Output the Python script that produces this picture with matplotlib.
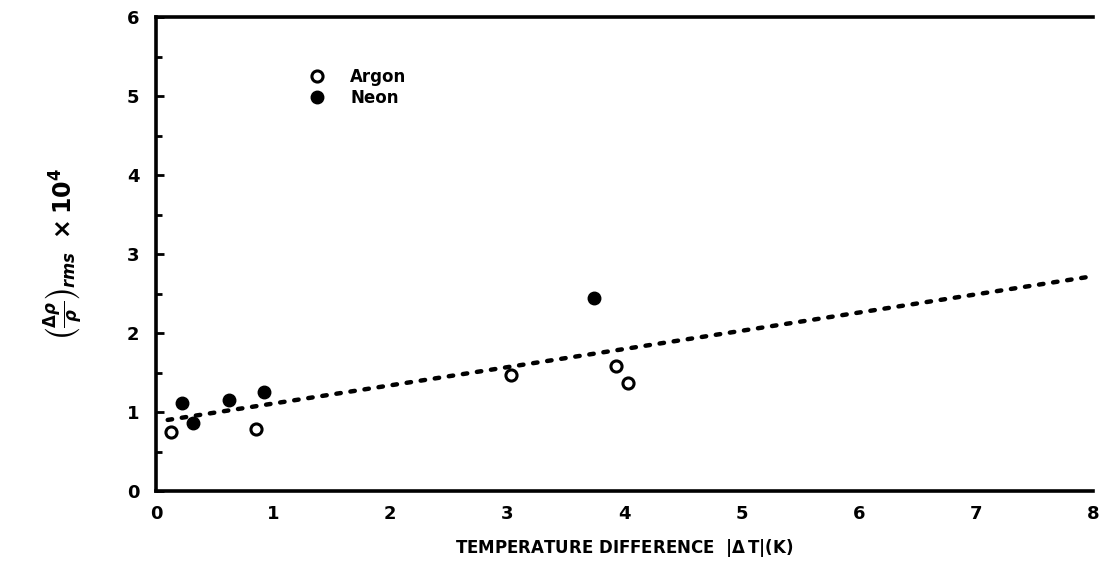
import matplotlib.pyplot as plt

# Argon (open circles)
argon_dt = [0.13, 0.85, 3.03, 3.93, 4.03]
argon_val = [0.75, 0.78, 1.47, 1.58, 1.37]

# Neon (filled circles)
neon_dt = [0.22, 0.32, 0.62, 0.92, 3.74]
neon_val = [1.11, 0.86, 1.15, 1.25, 2.44]

# dotted fit line end points
fit_dt = [0.1, 8.0]
fit_val = [0.9, 2.72]

plt.rcParams["font.family"] = "DejaVu Sans"
plt.rcParams["font.weight"] = "bold"

fig = plt.figure(figsize=(11.04, 5.77), dpi=100)
ax = fig.add_axes([0.1413, 0.149, 0.849, 0.8215])

ax.plot(fit_dt, fit_val, linestyle=(0, (1, 2.2)), color="black", linewidth=3.2,
        dash_capstyle="round")
ax.plot(argon_dt, argon_val, "o", markersize=8, markerfacecolor="white",
        markeredgecolor="black", markeredgewidth=2.2, linestyle="none", label="Argon")
ax.plot(neon_dt, neon_val, "o", markersize=9, color="black", linestyle="none",
        label="Neon")

ax.set_xlim(0, 8)
ax.set_ylim(0, 6)
ax.set_xticks(range(0, 9))
ax.set_yticks(range(0, 7))
ax.set_yticks([i + 0.5 for i in range(6)], minor=True)
ax.tick_params(axis="x", length=0, pad=10, labelsize=13)
ax.tick_params(axis="y", direction="in", length=6, width=2, pad=12, labelsize=13)
ax.tick_params(axis="y", which="minor", direction="in", length=4, width=2)
for lab in ax.get_xticklabels() + ax.get_yticklabels():
    lab.set_fontweight("heavy")

ax.spines["right"].set_visible(False)
for side in ["left", "bottom", "top"]:
    ax.spines[side].set_linewidth(2.6)

ax.set_xlabel(r"TEMPERATURE DIFFERENCE  $|\Delta\,\mathbf{T}|$(K)", fontsize=12,
              fontweight="bold", labelpad=10)
ax.set_ylabel(r"$\left(\frac{\Delta\rho}{\rho}\right)_{rms}\ \times10^4$", fontsize=17,
              labelpad=30)

ax.legend(loc="upper left", bbox_to_anchor=(0.138, 0.925), frameon=False,
          handletextpad=1.0, labelspacing=0.2, prop={"weight": "bold", "size": 12})

fig.savefig("out.png", dpi=100)
